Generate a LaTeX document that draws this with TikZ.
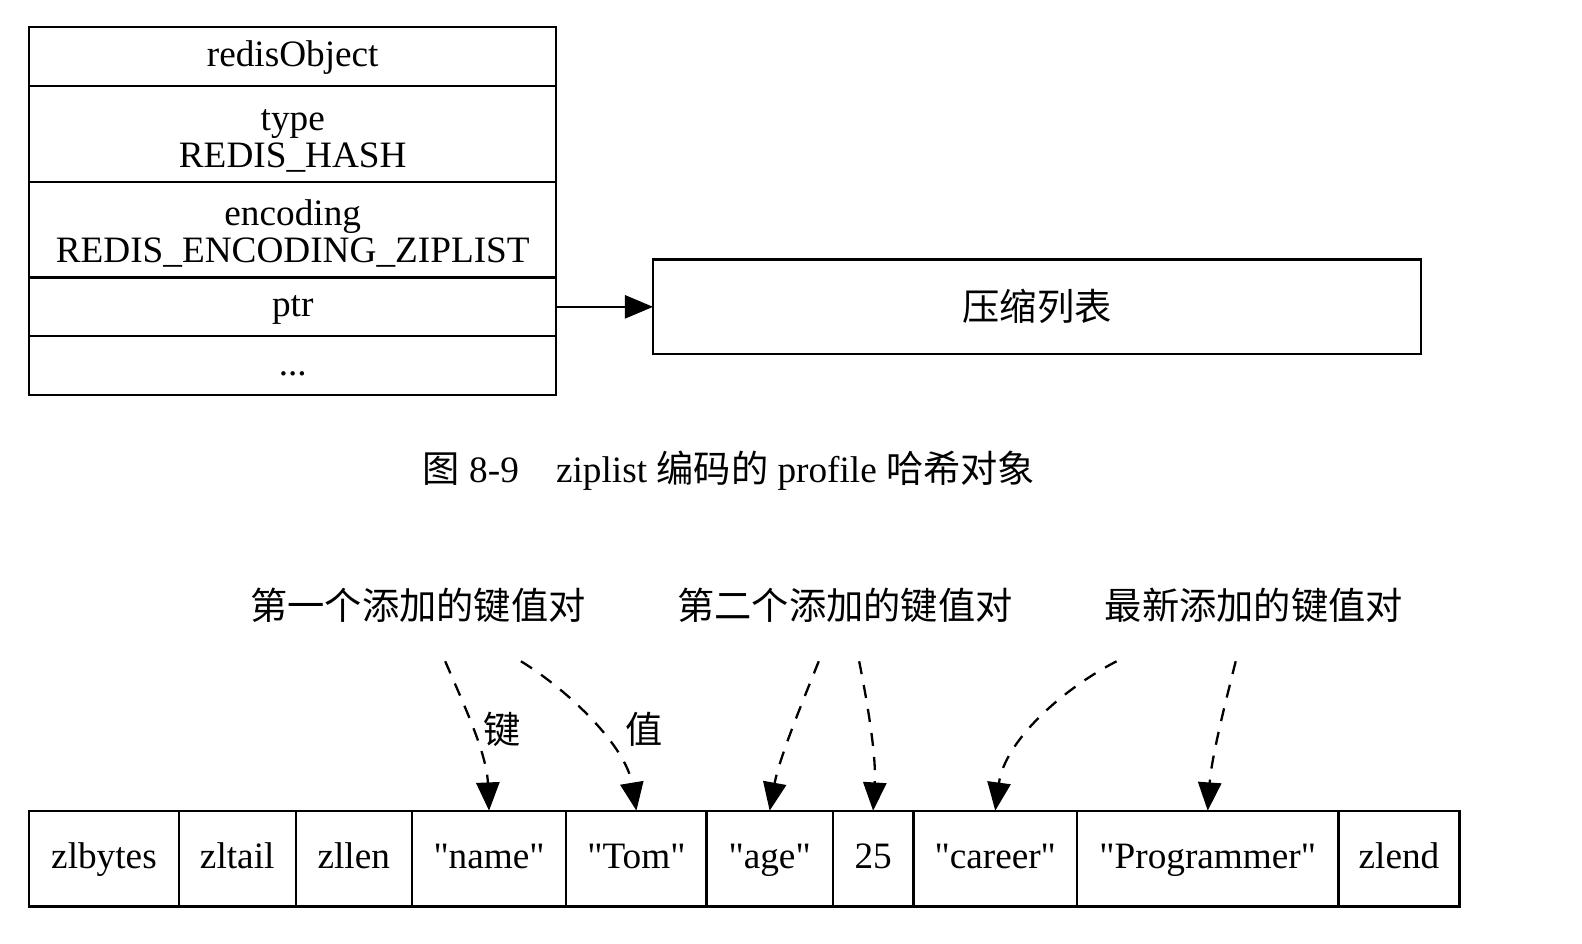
\documentclass[tikz,border=0pt]{standalone}
\usepackage{fontspec}
\setmainfont{Liberation Serif}
\newfontfamily\cjk{Noto Sans CJK SC}
\usetikzlibrary{positioning, arrows.meta}

\newcommand{\qstr}[1]{\textquotedbl #1\textquotedbl}

\begin{document}
\begin{tikzpicture}[x=0.02cm, y=-0.02cm, node distance=0pt,
	every node/.style={font=\fontsize{21}{21}\selectfont},
	field/.style={draw, line width=1.3pt, inner sep=0pt, outer sep=0pt,
		minimum width=10.44cm, align=center},
	onefield/.style={field, minimum height=1.16cm, text height=1.1em, text depth=0pt},
	cell/.style={draw, line width=1.3pt, inner sep=0pt, outer sep=0pt,
		minimum height=1.9cm, text height=1.1em, text depth=0pt},
	ptrline/.style={line width=1.3pt, -{Triangle[width=0.46cm, length=0.56cm]}},
	pairline/.style={ptrline, dash pattern=on 0.26cm off 0.22cm}]

	\useasboundingbox (0,0) rectangle (1567,935);

	% redisObject
	\node (obj) [onefield, anchor=north west] at (29,27) {redisObject};
	\node (type) [field, minimum height=1.9cm, below=of obj] {\rule{0pt}{0.95em}type\\REDIS\_HASH};
	\node (enc) [field, minimum height=1.9cm, below=of type] {\rule{0pt}{0.9em}encoding\\REDIS\_ENCODING\_ZIPLIST};
	\node (ptr) [onefield, below=of enc] {ptr};
	\node (more) [onefield, below=of ptr] {...};

	% ziplist
	\node (zl) [draw, line width=1.3pt, outer sep=0pt, minimum width=15.22cm,
		minimum height=1.88cm, right=1.92cm of ptr] {\cjk 压缩列表};
	\draw[ptrline] (ptr) -- (zl);

	\node (cap) at (722,466) {{\cjk 图} 8-9\quad ziplist {\cjk 编码的} profile {\cjk 哈希对象}};

	% ziplist entries
	\node (zlbytes) [cell, minimum width=2.96cm, anchor=north west] at (29,803) {zlbytes};
	\node (zltail) [cell, minimum width=2.32cm, right=of zlbytes] {zltail};
	\node (zllen) [cell, minimum width=2.30cm, right=of zltail] {zllen};
	\node (name) [cell, minimum width=3.06cm, right=of zllen] {\qstr{name}};
	\node (tom) [cell, minimum width=2.78cm, right=of name] {\qstr{Tom}};
	\node (age) [cell, minimum width=2.50cm, right=of tom] {\qstr{age}};
	\node (num) [cell, minimum width=1.60cm, right=of age] {25};
	\node (career) [cell, minimum width=3.24cm, right=of num] {\qstr{career}};
	\node (prog) [cell, minimum width=5.18cm, right=of career] {\qstr{Programmer}};
	\node (zlend) [cell, minimum width=2.40cm, right=of prog] {zlend};

	% pair labels
	\node (first) at (414,600) {\cjk 第一个添加的键值对};
	\node (second) at (837,600) {\cjk 第二个添加的键值对};
	\node (newest) at (1242,600) {\cjk 最新添加的键值对};

	\coordinate (k1) at (441,655);
	\coordinate (v1) at (516,655);
	\coordinate (k2) at (811,655);
	\coordinate (v2) at (851,655);
	\coordinate (k3) at (1106,655);
	\coordinate (v3) at (1224,655);

	\draw[pairline] (k1) .. controls (458,695) and (482,745) .. (name.north);
	\draw[pairline] (v1) .. controls (565,685) and (620,740) .. (tom.north);
	\draw[pairline] (k2) .. controls (797,690) and (772,750) .. (age.north);
	\draw[pairline] (v2) .. controls (860,700) and (868,750) .. (num.north);
	\draw[pairline] (k3) .. controls (1050,684) and (995,735) .. (career.north);
	\draw[pairline] (v3) .. controls (1214,695) and (1200,750) .. (prog.north);

	\node (keylbl) at (497,722) {\cjk 键};
	\node (vallbl) at (638,722) {\cjk 值};

\end{tikzpicture}
\end{document}
